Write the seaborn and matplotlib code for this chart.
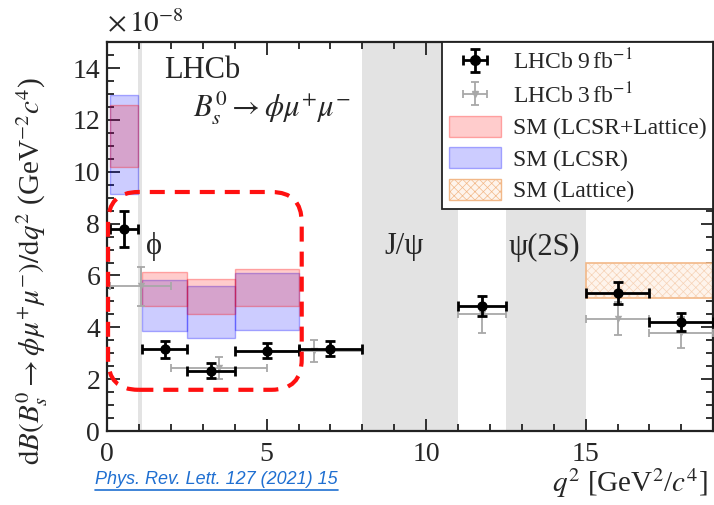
import numpy as np
import pandas as pd
import seaborn as sns
import matplotlib.pyplot as plt
from matplotlib.patches import FancyBboxPatch, Patch
from matplotlib.lines import Line2D
from matplotlib.ticker import MultipleLocator

# LHCb 9 fb-1 (units of 1e-8)
lo9 = [0.1, 1.1, 2.5, 4.0, 6.0, 11.0, 15.0, 17.0]
hi9 = [0.98, 2.5, 4.0, 6.0, 8.0, 12.5, 17.0, 19.0]
val9 = [7.79, 3.16, 2.33, 3.10, 3.18, 4.81, 5.31, 4.22]
err9 = [0.68, 0.33, 0.28, 0.30, 0.30, 0.38, 0.42, 0.35]

# LHCb 3 fb-1
lo3 = [0.1, 2.0, 5.0, 11.0, 15.0, 17.0]
hi3 = [2.0, 5.0, 8.0, 12.5, 17.0, 19.0]
val3 = [5.58, 2.44, 3.10, 4.50, 4.34, 3.80]
err3 = [0.76, 0.43, 0.43, 0.70, 0.62, 0.58]

# SM predictions
sm_lo = [0.1, 1.1, 2.5, 4.0]
sm_hi = [0.98, 2.5, 4.0, 6.0]
comb_lo = [10.19, 4.81, 4.50, 4.81]
comb_hi = [12.56, 6.12, 5.85, 6.24]
lcsr_lo = [9.15, 3.84, 3.57, 3.88]
lcsr_hi = [12.95, 5.81, 5.58, 6.09]
latt_bin = [15.0, 19.0]
latt_lo = [5.12]
latt_hi = [6.47]

vetoes = [(0.98, 1.1), (8.0, 11.0), (12.5, 15.0)]

d9 = pd.DataFrame({"lo": lo9, "hi": hi9, "val": val9, "err": err9})
d9["q2"] = (d9["lo"] + d9["hi"]) / 2
d3 = pd.DataFrame({"lo": lo3, "hi": hi3, "val": val3, "err": err3})
d3["q2"] = (d3["lo"] + d3["hi"]) / 2

sns.set_theme(style="ticks")
plt.rcParams["font.family"] = ["Liberation Serif", "DejaVu Serif"]
plt.rcParams["mathtext.fontset"] = "stix"
plt.rcParams["hatch.linewidth"] = 0.5

red_f, red_e = (1, 0, 0, 0.2), (1, 0, 0, 0.3)
blue_f, blue_e = (0, 0, 1, 0.2), (0, 0, 1, 0.3)
latt_f, latt_h, latt_e = "#fef4ec", "#f6d2b6", "#f2b888"

fig = plt.figure(figsize=(7.14, 5.05), dpi=100)
ax = fig.add_axes([0.150, 0.1465, 0.849, 0.770])

for a, b in vetoes:
    ax.axvspan(a, b, color="#e3e3e3", lw=0, zorder=0)

# SM bands
w = np.array(sm_hi) - np.array(sm_lo)
ax.bar(sm_lo, np.array(lcsr_hi) - np.array(lcsr_lo), width=w, bottom=lcsr_lo,
       align="edge", facecolor=blue_f, edgecolor=blue_e, lw=1, zorder=1)
ax.bar(sm_lo, np.array(comb_hi) - np.array(comb_lo), width=w, bottom=comb_lo,
       align="edge", facecolor=red_f, edgecolor=red_e, lw=1, zorder=2)
lw_latt = latt_bin[1] - latt_bin[0]
ax.bar(latt_bin[0], latt_hi[0] - latt_lo[0], width=lw_latt, bottom=latt_lo[0],
       align="edge", facecolor=latt_f, edgecolor=latt_h, hatch="xxxx", lw=0, zorder=1)
ax.bar(latt_bin[0], latt_hi[0] - latt_lo[0], width=lw_latt, bottom=latt_lo[0],
       align="edge", fill=False, edgecolor=latt_e, lw=1.2, zorder=1)

# data
eb3 = ax.errorbar(d3["q2"], d3["val"], yerr=d3["err"],
                  xerr=[d3["q2"] - d3["lo"], d3["hi"] - d3["q2"]],
                  fmt="none", ecolor="#a8a8a8", elinewidth=1.3, capsize=3, capthick=1.3, zorder=3)
sns.scatterplot(data=d3, x="q2", y="val", marker="v", color="#a8a8a8", s=28,
                linewidth=0, ax=ax, zorder=4, legend=False)
eb9 = ax.errorbar(d9["q2"], d9["val"], yerr=d9["err"],
                  xerr=[d9["q2"] - d9["lo"], d9["hi"] - d9["q2"]],
                  fmt="none", ecolor="black", elinewidth=2, capsize=3.5, capthick=2, zorder=5)
sns.scatterplot(data=d9, x="q2", y="val", marker="o", color="black", s=55,
                linewidth=0, ax=ax, zorder=6, legend=False)

ax.set_xlim(0, 19)
ax.set_ylim(0, 15)
ax.xaxis.set_major_locator(MultipleLocator(5))
ax.xaxis.set_minor_locator(MultipleLocator(1))
ax.yaxis.set_major_locator(MultipleLocator(2))
ax.yaxis.set_minor_locator(MultipleLocator(0.5))
ax.tick_params(which="both", direction="in", top=True, right=True, width=1.3,
               color="#222222", labelsize=20)
ax.tick_params(axis="x", pad=8)
ax.tick_params(axis="y", pad=5)
ax.tick_params(which="major", length=9)
ax.tick_params(which="minor", length=5)
for s in ax.spines.values():
    s.set_linewidth(1.6)
    s.set_color("#222222")

ax.text(0, 1.01, r"$\times\,10^{-8}$", transform=ax.transAxes, fontsize=21,
        ha="left", va="bottom")
ax.set_ylabel(r"$\mathrm{d}B(B_s^0 \to \phi\mu^{+}\mu^{-})/\mathrm{d}q^2$ (GeV$^{-2}c^4$)",
              fontsize=21)
ax.yaxis.set_label_coords(-0.095, 0.41)
ax.set_xlabel(r"$q^2$ [GeV$^2$/$c^4$]", fontsize=21, ha="right")
ax.xaxis.set_label_coords(0.99, -0.09)

ax.text(1.8, 13.9, "LHCb", fontsize=22, ha="left", va="center")
ax.text(2.7, 12.45, r"$B_s^0 \to \phi\mu^{+}\mu^{-}$", fontsize=22, ha="left", va="center")
ax.text(1.47, 7.1, "ϕ", fontsize=22, ha="center", va="center")
ax.text(9.3, 7.1, "J/ψ", fontsize=22, ha="center", va="center")
ax.text(13.7, 7.1, "ψ(2S)", fontsize=22, ha="center", va="center")

handles = [(eb9, Line2D([], [], marker="o", color="black", ls="none", ms=7)),
           (eb3, Line2D([], [], marker="v", color="#a8a8a8", ls="none", ms=5)),
           Patch(facecolor=red_f, edgecolor=red_e),
           Patch(facecolor=blue_f, edgecolor=blue_e),
           Patch(facecolor=latt_f, edgecolor=latt_e, hatch="xxxx")]
labels = [r"LHCb 9$\,$fb$^{-1}$", r"LHCb 3$\,$fb$^{-1}$", "SM (LCSR+Lattice)",
          "SM (LCSR)", "SM (Lattice)"]
leg = ax.legend(handles, labels, loc="upper right", fontsize=17, frameon=True,
                fancybox=False, framealpha=1, edgecolor="#222222", borderaxespad=0,
                labelspacing=0.33, handlelength=2.2, handleheight=1.0,
                handletextpad=0.5, borderpad=0.3)
leg.get_frame().set_linewidth(1.3)
leg.set_zorder(10)

# highlight box
sx, sy = 32.0, 25.8
box = FancyBboxPatch((0.03, 1.59), 6.07, 7.63,
                     boxstyle="round,pad=0,rounding_size=0.95",
                     mutation_aspect=sx / sy, fill=False, edgecolor="#ff1010",
                     lw=3, ls=(0, (3.6, 2.4)), clip_on=False, zorder=8)
ax.add_patch(box)

ref = fig.text(0.133, 0.05, "Phys. Rev. Lett. 127 (2021) 15", fontsize=13,
               family=["Liberation Sans", "DejaVu Sans"], style="italic",
               color="#1f6fd1", ha="left", va="center")
fig.canvas.draw()
bb = ref.get_window_extent().transformed(fig.transFigure.inverted())
fig.add_artist(Line2D([bb.x0, bb.x1], [bb.y0 - 0.004, bb.y0 - 0.004],
                      transform=fig.transFigure, color="#1f6fd1", lw=1.2))

fig.savefig("out.png", dpi=100)
